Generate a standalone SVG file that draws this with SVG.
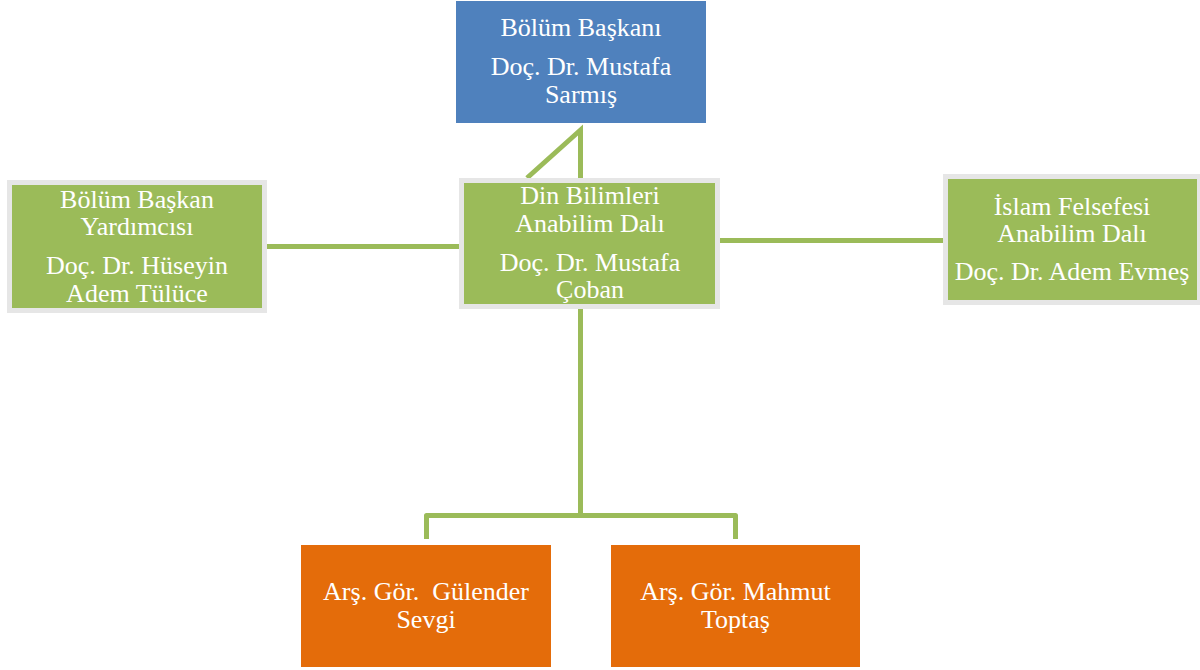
<svg xmlns="http://www.w3.org/2000/svg" width="1200" height="670" viewBox="0 0 1200 670">
<style>
.t{font-family:"Liberation Serif","Times New Roman",serif;font-size:26px;fill:#FFFFFF;text-anchor:middle}
.g{fill:#9BBB59;stroke:#E6E6E6;stroke-width:5}
.c{fill:none;stroke:#9BBB59;stroke-width:5}
</style>
<rect width="1200" height="670" fill="#FFFFFF"/>
<g id="connectors">
<path class="c" d="M527 178 L580.5 130 V178" stroke-linejoin="miter"/>
<path class="c" d="M267 246.5 H459"/>
<path class="c" d="M720 240.5 H943"/>
<path class="c" d="M580.5 309 V515.5"/>
<path class="c" d="M426.5 539 V515.5 H735.5 V539" stroke-linejoin="round"/>
</g>
<g id="bolum-baskani">
<rect x="456" y="1" width="250" height="122" fill="#4F81BD"/>
<text class="t" x="581" y="36">Bölüm Başkanı</text>
<text class="t" x="581" y="75">Doç. Dr. Mustafa</text>
<text class="t" x="581" y="103">Sarmış</text>
</g>
<g id="din-bilimleri">
<rect class="g" x="461.5" y="180.5" width="256" height="126"/>
<text class="t" x="590" y="204">Din Bilimleri</text>
<text class="t" x="590" y="232">Anabilim Dalı</text>
<text class="t" x="590" y="271">Doç. Dr. Mustafa</text>
<text class="t" x="590" y="298">Çoban</text>
</g>
<g id="baskan-yardimcisi">
<rect class="g" x="9.5" y="182.5" width="255" height="128"/>
<text class="t" x="137" y="208">Bölüm Başkan</text>
<text class="t" x="137" y="235">Yardımcısı</text>
<text class="t" x="137" y="274">Doç. Dr. Hüseyin</text>
<text class="t" x="137" y="302">Adem Tülüce</text>
</g>
<g id="islam-felsefesi">
<rect class="g" x="945.5" y="176.5" width="254" height="126"/>
<text class="t" x="1072" y="215">İslam Felsefesi</text>
<text class="t" x="1072" y="242">Anabilim Dalı</text>
<text class="t" x="1072" y="280">Doç. Dr. Adem Evmeş</text>
</g>
<g id="gulender-sevgi">
<rect x="301" y="545" width="250" height="122" fill="#E46C0A"/>
<text class="t" x="426" y="600" style="white-space:pre" xml:space="preserve">Arş. Gör.  Gülender</text>
<text class="t" x="426" y="628">Sevgi</text>
</g>
<g id="mahmut-toptas">
<rect x="611" y="545" width="249" height="122" fill="#E46C0A"/>
<text class="t" x="735.5" y="600">Arş. Gör. Mahmut</text>
<text class="t" x="735.5" y="628">Toptaş</text>
</g>
</svg>
